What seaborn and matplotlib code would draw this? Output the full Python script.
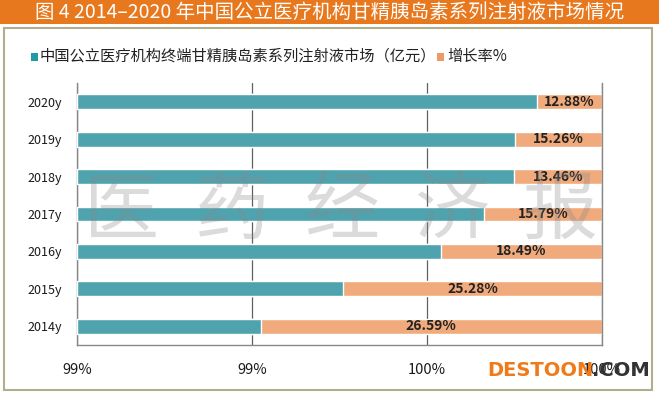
import pandas as pd
import numpy as np
import matplotlib.pyplot as plt
import seaborn as sns
from matplotlib.patches import Rectangle

# 数据（从图中读取/估算）
years = ['2020y', '2019y', '2018y', '2017y', '2016y', '2015y', '2014y']
market = [91.0, 76.7, 66.7, 54.4, 41.7, 26.0, 14.3]   # 亿元（估算）
growth = [12.88, 15.26, 13.46, 15.79, 18.49, 25.28, 26.59]  # 增长率%
x_ticklabels = ['99%', '99%', '100%', '100%']

df = pd.DataFrame({'year': years, 'market': market, 'growth': growth})
df['total'] = df['market'] + df['growth']
df['share_m'] = df['market'] / df['total']
df['share_all'] = 1.0

sns.set_theme(style='white')
plt.rcParams['font.family'] = ['Noto Sans CJK SC', 'DejaVu Sans']

teal = '#4FA3AF'
orange = '#F0AA7C'

fig = plt.figure(figsize=(6.59, 3.94), dpi=100)
W, H = 659, 394

# 标题条
fig.patches.append(Rectangle((0, 1 - 24 / H), 1, 24 / H, transform=fig.transFigure,
                             facecolor='#E8781E', edgecolor='none', zorder=0))
fig.text(330 / W, 1 - 12 / H, '图 4 2014–2020 年中国公立医疗机构甘精胰岛素系列注射液市场情况',
         color='white', fontsize=14, fontweight='medium', ha='center', va='center')
# 外框
fig.patches.append(Rectangle((4 / W, 1 - 390 / H), 648 / W, 362 / H, transform=fig.transFigure,
                             facecolor='none', edgecolor='#B0AE8C', linewidth=1.5, zorder=0))

ax = fig.add_axes([77 / W, 1 - 345 / H, 525 / W, 262 / H])
ax.set_facecolor('none')

sns.barplot(data=df, x='share_all', y='year', order=years, color=orange,
            width=0.4, saturation=1, ax=ax, orient='h', zorder=2)
sns.barplot(data=df, x='share_m', y='year', order=years, color=teal,
            width=0.4, saturation=1, ax=ax, orient='h', zorder=3)

for i, row in df.iterrows():
    ax.text((row['share_m'] + 1) / 2, i, f"{row['growth']:.2f}%", ha='center', va='center',
            fontsize=10, fontweight='bold', color='#222222', zorder=5)

ax.set_xlim(0, 1)
ax.set_ylim(6.5, -0.5)
ax.set_xticks(np.linspace(0, 1, 4))
ax.set_xticklabels(x_ticklabels, fontsize=10.5, color='#1a1a1a')
ax.tick_params(axis='x', length=0, pad=13)
ax.tick_params(axis='y', length=0, pad=11, labelsize=9, labelcolor='#1a1a1a')
ax.set_xlabel('')
ax.set_ylabel('')
ax.xaxis.grid(True, color='#606060', linewidth=0.9)
ax.set_axisbelow(True)
for s in ['left', 'bottom', 'right']:
    ax.spines[s].set_visible(True)
    ax.spines[s].set_color('#888888')
    ax.spines[s].set_linewidth(1)
ax.spines['top'].set_visible(False)

# 图例
fig.patches.append(Rectangle((31 / W, 1 - 61 / H), 7 / W, 8 / H, transform=fig.transFigure,
                             facecolor='#1F9AA6', edgecolor='none'))
fig.text(40 / W, 1 - 56 / H, '中国公立医疗机构终端甘精胰岛素系列注射液市场（亿元）',
         fontsize=11, color='#222222', va='center', ha='left')
fig.patches.append(Rectangle((437 / W, 1 - 61 / H), 7 / W, 8 / H, transform=fig.transFigure,
                             facecolor='#EE9A66', edgecolor='none'))
fig.text(447 / W, 1 - 56 / H, '增长率%', fontsize=11, color='#222222', va='center', ha='left')

# 水印
for ch, xp in zip('医药经济报', [122, 232, 342, 452, 560]):
    fig.text(xp / W, 1 - 212 / H, ch, fontsize=54, color='#888888', alpha=0.3,
             ha='center', va='center', zorder=10)
fig.text(487 / W, 1 - 371 / H, 'DESTOON', fontsize=14, fontweight='bold', color='#F07A1A',
         ha='left', va='center', family='DejaVu Sans')
fig.text(650 / W, 1 - 371 / H, '.COM', fontsize=14, fontweight='bold', color='#333333',
         ha='right', va='center', family='DejaVu Sans')

fig.savefig('out.png', dpi=100)
